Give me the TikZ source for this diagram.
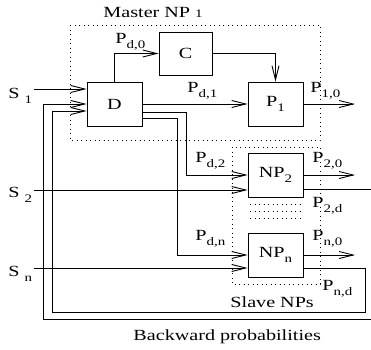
\documentclass[tikz,border=0pt]{standalone}
\usepackage{fontspec}
\setmainfont[FakeStretch=1.3]{Liberation Serif}
\usetikzlibrary{arrows.meta}
\newcommand{\sbs}[1]{\raisebox{-5pt}{\fontsize{11.5}{12}\selectfont #1}}
\begin{document}
\begin{tikzpicture}[x=1pt,y=-1pt,font=\fontsize{15.5}{17}\selectfont,line join=miter,line width=0.9pt,
  >={Straight Barb[length=14pt,width=7pt]},
  blok/.style={draw,minimum width=55pt,minimum height=44pt,inner sep=0pt},
  lbl/.style={anchor=base west,inner sep=0pt},
  dots/.style={line width=0.8pt,dash pattern=on 0.9pt off 3.6pt}]
\useasboundingbox (0,0) rectangle (371,349);
% Master and slave frames
\draw[dots] (70,25) rectangle (320,140);
\draw[dots] (232,147) rectangle (320,284);
\foreach \y in {204,211,218} \draw[dots] (250,\y) -- (302,\y);
\node[lbl] at (103,17) {Master NP {\fontsize{11.5}{12}\selectfont 1}};
\node[lbl] at (230,307) {Slave NPs};
\node[lbl] at (133,340) {Backward probabilities};
% blocks
\node[blok] (D) at (114.5,104) {D};
\node[blok,minimum width=53pt,minimum height=43pt] (C) at (185.5,53.5) {C};
\node[blok] (P1) at (275.5,104) {P\sbs{1}};
\node[blok] (NP2) at (275.5,175) {NP\sbs{2}};
\node[blok] (NPn) at (275.5,255) {NP\sbs{n}};
\coordinate (s1) at (34,89);
\coordinate (s2) at (34,190);
\coordinate (sn) at (34,268);
\coordinate (k2) at (186,175);
\coordinate (kn) at (177,255);
\coordinate (o1) at (355,104);
\coordinate (o2) at (355,175);
\coordinate (on) at (355,255);
\coordinate (r2) at (374,319);
\coordinate (l2) at (43,319);
\coordinate (rn) at (365,312);
\coordinate (ln) at (52,312);
% inputs
\node[lbl] at (8,98) {S \sbs{1}};
\node[lbl] at (8,197) {S \sbs{2}};
\node[lbl] at (8,276) {S \sbs{n}};
\draw[->] (s1) -- (s1 -| D.west);
\draw[->] (s2) -- (s2 -| NP2.west);
\draw[->] (sn) -- (sn -| NPn.west);
% master connections
\draw[->] (D.north) |- (C.west);
\draw[->] (C.east) -| (P1.north);
\draw[->] (D.east) -- (P1.west);
\draw[->] (P1.east) -- (o1);
\draw[->] ([yshift=-8pt]D.east) -| (k2) -- (NP2.west);
\draw[->] ([yshift=-14pt]D.east) -| (kn) -- (NPn.west);
\draw[->] (NP2.east) -- (o2);
\draw[->] (NPn.east) -- (on);
% backward loops
\draw[->] ([yshift=-14pt]NP2.east) -| (r2) -- (l2) |- (D.west);
\draw[->] ([yshift=-13pt]NPn.east) -| (rn) -- (ln) |- ([yshift=-7pt]D.west);
% labels
\node[lbl] at (115,43) {P\sbs{d,0}};
\node[lbl] at (187,92) {P\sbs{d,1}};
\node[lbl] at (310,92) {P\sbs{1,0}};
\node[lbl] at (195,162) {P\sbs{d,2}};
\node[lbl] at (312,162) {P\sbs{2,0}};
\node[lbl] at (312,207) {P\sbs{2,d}};
\node[lbl] at (195,240) {P\sbs{d,n}};
\node[lbl] at (312,240) {P\sbs{n,0}};
\node[lbl] at (322,290) {P\sbs{n,d}};
\end{tikzpicture}
\end{document}
